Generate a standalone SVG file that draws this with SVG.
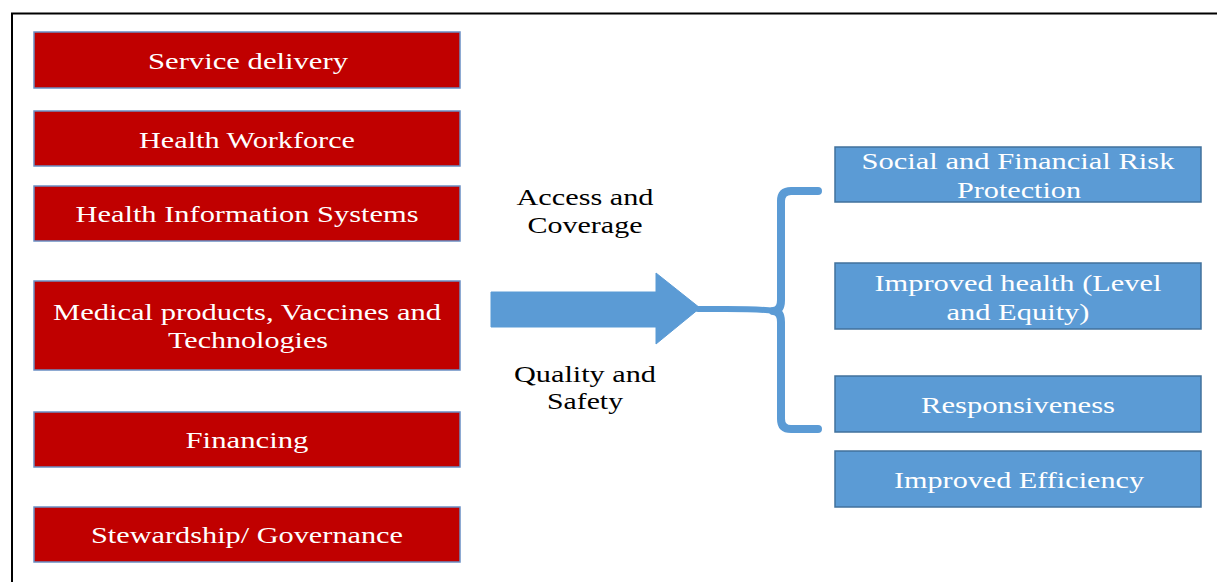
<svg xmlns="http://www.w3.org/2000/svg" width="1217" height="582" viewBox="0 0 1217 582">
<style>
.red{fill:#C00000;stroke:#6A8FC4;stroke-width:1.5}
.blue{fill:#5B9BD5;stroke:#41719C;stroke-width:1.5}
.t{font-family:"Liberation Serif","Times New Roman",serif;font-size:24px;fill:#FFFFFF;text-anchor:middle}
.k{font-family:"Liberation Serif","Times New Roman",serif;font-size:24px;fill:#000000;text-anchor:middle}
.conn{fill:none;stroke:#5B9BD5;stroke-linecap:round;stroke-linejoin:round}
</style>
<rect x="0" y="0" width="1217" height="582" fill="#FFFFFF"/>
<path d="M12,582 V13.5 H1217" fill="none" stroke="#000000" stroke-width="2"/>

<g id="service-delivery"><rect class="red" x="34" y="32" width="426" height="56"/><text class="t" x="248" y="69" textLength="200" lengthAdjust="spacingAndGlyphs">Service delivery</text></g>
<g id="health-workforce"><rect class="red" x="34" y="111" width="426" height="55"/><text class="t" x="247" y="148" textLength="216" lengthAdjust="spacingAndGlyphs">Health Workforce</text></g>
<g id="his"><rect class="red" x="34" y="186" width="426" height="55"/><text class="t" x="247" y="222" textLength="343" lengthAdjust="spacingAndGlyphs">Health Information Systems</text></g>
<g id="medical-products"><rect class="red" x="34" y="281" width="426" height="89"/><text class="t" x="247" y="320" textLength="388" lengthAdjust="spacingAndGlyphs">Medical products, Vaccines and</text><text class="t" x="248" y="348" textLength="160" lengthAdjust="spacingAndGlyphs">Technologies</text></g>
<g id="financing"><rect class="red" x="34" y="412" width="426" height="55"/><text class="t" x="247" y="448" textLength="123" lengthAdjust="spacingAndGlyphs">Financing</text></g>
<g id="stewardship"><rect class="red" x="34" y="507" width="426" height="55"/><text class="t" x="247" y="543" textLength="312" lengthAdjust="spacingAndGlyphs">Stewardship/ Governance</text></g>

<g id="label-access"><text class="k" x="585" y="205" textLength="137" lengthAdjust="spacingAndGlyphs">Access and</text><text class="k" x="585" y="233" textLength="115" lengthAdjust="spacingAndGlyphs">Coverage</text></g>
<g id="label-quality"><text class="k" x="585" y="382" textLength="142" lengthAdjust="spacingAndGlyphs">Quality and</text><text class="k" x="585" y="409" textLength="76" lengthAdjust="spacingAndGlyphs">Safety</text></g>

<g id="connectors">
<polygon points="491,292 656,292 656,273 700,308 656,344 656,327 491,327" fill="#5B9BD5" stroke="#5B9BD5" stroke-width="1"/>
<path class="conn" d="M698,309 C730,309 755,308 774,311" stroke-width="6"/>
<path class="conn" d="M818,191 H791 Q781,191 781,201 V300 Q781,311 773,311 Q781,311 781,322 V419 Q781,429 791,429 H818" stroke-width="8"/>
</g>

<g id="risk-protection"><rect class="blue" x="835" y="147" width="366" height="55"/><text class="t" x="1018" y="169" textLength="313" lengthAdjust="spacingAndGlyphs">Social and Financial Risk</text><text class="t" x="1019" y="198" textLength="124" lengthAdjust="spacingAndGlyphs">Protection</text></g>
<g id="improved-health"><rect class="blue" x="835" y="263" width="366" height="66"/><text class="t" x="1018" y="291" textLength="287" lengthAdjust="spacingAndGlyphs">Improved health (Level</text><text class="t" x="1018" y="320" textLength="143" lengthAdjust="spacingAndGlyphs">and Equity)</text></g>
<g id="responsiveness"><rect class="blue" x="835" y="376" width="366" height="56"/><text class="t" x="1018" y="413" textLength="194" lengthAdjust="spacingAndGlyphs">Responsiveness</text></g>
<g id="efficiency"><rect class="blue" x="835" y="451" width="366" height="56"/><text class="t" x="1019" y="488" textLength="250" lengthAdjust="spacingAndGlyphs">Improved Efficiency</text></g>
</svg>
